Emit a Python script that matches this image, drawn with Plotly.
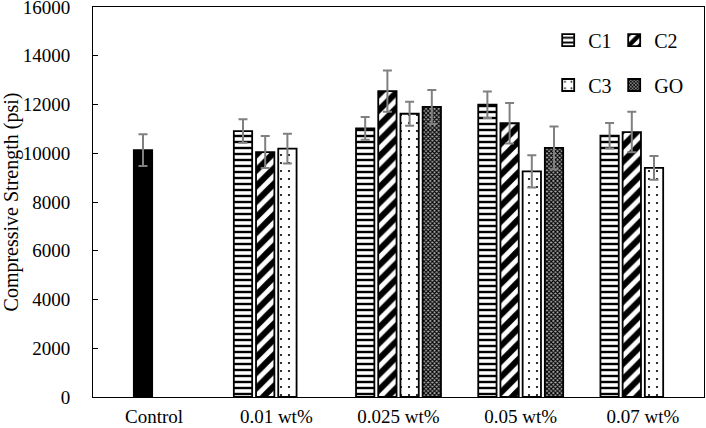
import plotly.graph_objects as go

categories = ["Control", "0.01 wt%", "0.025 wt%", "0.05 wt%", "0.07 wt%"]
series_names = ["C1", "C2", "C3", "GO"]
c1_values = [None, 10910, 11020, 11990, 10720]
c2_values = [None, 10050, 12550, 11230, 10870]
c3_values = [None, 10190, 11620, 9260, 9400]
go_values = [None, None, 11900, 10220, None]
c1_errors = [0, 480, 470, 540, 520]
c2_errors = [0, 660, 850, 830, 830]
c3_errors = [0, 615, 490, 660, 490]
go_errors = [0, 0, 700, 875, 0]
control_category = ["Control"]
control_value = [10130]
control_error = [650]
y_ticks = [0, 2000, 4000, 6000, 8000, 10000, 12000, 14000, 16000]
y_tick_text = ["0", "2000", "4000", "6000", "8000", "10000", "12000", "14000", "16000"]

FONT = "Liberation Serif"
bar_w = 0.15
step = 0.1817
offsets = [(k - 1.5) * step - bar_w / 2 for k in range(4)]

patterns = [
    dict(shape="-", size=6, solidity=0.4, fgcolor="black", bgcolor="white", fgopacity=1, fillmode="overlay"),
    dict(shape="/", size=11, solidity=0.55, fgcolor="black", bgcolor="white", fgopacity=1, fillmode="overlay"),
    dict(shape=".", size=8, solidity=0.06, fgcolor="black", bgcolor="white", fgopacity=1, fillmode="overlay"),
    dict(shape="x", size=3, solidity=0.6, fgcolor="black", bgcolor="#aaaaaa", fgopacity=1, fillmode="overlay"),
]
vals = [c1_values, c2_values, c3_values, go_values]
errs = [c1_errors, c2_errors, c3_errors, go_errors]
legends = ["legend", "legend2", "legend3", "legend4"]
legend_x = [0.745, 0.853, 0.745, 0.853]
legend_y = [0.915, 0.915, 0.80, 0.80]

fig = go.Figure()
for i, name in enumerate(series_names):
    fig.add_trace(go.Bar(
        x=categories, y=vals[i], name=name,
        offset=offsets[i], width=bar_w,
        marker=dict(color="white", line=dict(color="black", width=1.8), pattern=patterns[i]),
        error_y=dict(type="data", array=errs[i], color="#808080", thickness=2, width=4.5),
        legend=legends[i],
    ))

fig.add_trace(go.Bar(
    x=control_category, y=control_value, name="Control",
    offset=offsets[1], width=bar_w, showlegend=False,
    marker=dict(color="black", line=dict(color="black", width=1.8)),
    error_y=dict(type="data", array=control_error, color="#808080", thickness=2, width=4.5),
))

legend_common = dict(orientation="h", xanchor="left", yanchor="middle",
                     font=dict(family=FONT, size=20, color="black"),
                     bgcolor="rgba(0,0,0,0)", itemwidth=30)

legend_layout = {}
for i, lg in enumerate(legends):
    legend_layout[lg] = dict(x=legend_x[i], y=legend_y[i], **legend_common)

fig.update_layout(
    width=706, height=428,
    margin=dict(l=93, r=2, t=7, b=31, autoexpand=False),
    paper_bgcolor="white", plot_bgcolor="white",
    barmode="overlay",
    font=dict(family=FONT, size=19, color="black"),
    xaxis=dict(
        categoryorder="array", categoryarray=categories,
        showline=True, linecolor="black", linewidth=1, mirror=True,
        showgrid=False, ticks="", tickfont=dict(family=FONT, size=19),
        ticklabelstandoff=2, automargin=False,
    ),
    yaxis=dict(
        range=[0, 16000], tickmode="array", tickvals=y_ticks, ticktext=y_tick_text,
        showline=True, linecolor="black", linewidth=1, mirror=True,
        showgrid=False, zeroline=False, ticks="inside", ticklen=5, tickcolor="black",
        ticklabeloverflow="allow",
        tickfont=dict(family=FONT, size=19), ticklabelstandoff=18, automargin=False,
        title=dict(text="Compressive Strength (psi)", font=dict(family=FONT, size=20), standoff=6),
    ),
    **legend_layout,
)

fig.write_html("out.html", config={"displayModeBar": False},
               post_script="document.body.style.margin='0';document.body.style.overflow='hidden';")
